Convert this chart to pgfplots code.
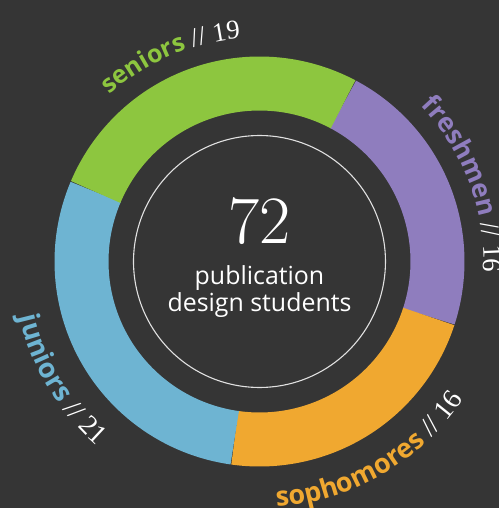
\documentclass[border=0pt]{standalone}
\usepackage{fontspec}
\usepackage{pgfplots}
\usepackage{pgfplotstable}
\pgfplotsset{compat=1.18}
\usetikzlibrary{decorations.text}
\newfontfamily\sansf{Open Sans}
\newfontfamily\numf{Liberation Serif}

\definecolor{bg}{HTML}{353535}
\definecolor{cF}{HTML}{8F7DBE}
\definecolor{cS}{HTML}{F0A830}
\definecolor{cJ}{HTML}{6EB4D2}
\definecolor{cR}{HTML}{8DC63F}

% students per class, clockwise from the top right
\pgfplotstableread{
label count
freshmen 16
sophomores 16
juniors 21
seniors 19
}\classes

\begin{document}
\begin{tikzpicture}
\pgfplotstablegetelem{0}{count}\of\classes \let\nF\pgfplotsretval
\pgfplotstablegetelem{1}{count}\of\classes \let\nS\pgfplotsretval
\pgfplotstablegetelem{2}{count}\of\classes \let\nJ\pgfplotsretval
\pgfplotstablegetelem{3}{count}\of\classes \let\nR\pgfplotsretval
\pgfmathsetmacro\total{\nF+\nS+\nJ+\nR}
\pgfmathsetmacro\aA{62}
\pgfmathsetmacro\aB{\aA-360*\nF/\total}
\pgfmathsetmacro\aC{\aB-360*\nS/\total}
\pgfmathsetmacro\aD{\aC-360*\nJ/\total}
\pgfmathsetmacro\aE{\aD-360*\nR/\total}

\fill[bg] (-259.5bp,-246.5bp) rectangle (239.5bp,261.5bp);

\begin{axis}[
  at={(0,0)}, anchor=origin,
  x=1bp, y=1bp,
  xmin=-250, xmax=230, ymin=-240, ymax=250,
  hide axis, clip=false,
  data cs=polar,
]
  \addplot[cF, line width=54bp, domain=\aA:\aB, samples=60] ({x},{178});
  \addplot[cS, line width=54bp, domain=\aB:\aC, samples=60] ({x},{178});
  \addplot[cJ, line width=54bp, domain=\aC:\aD, samples=60] ({x},{178});
  \addplot[cR, line width=54bp, domain=\aD:\aE, samples=60] ({x},{178});
  \addplot[white!85!bg, line width=1.1bp, domain=0:360, samples=150] ({x},{126});
\end{axis}

% center text
\node[white, anchor=base, inner sep=0] at (0,18.5bp) {\fontsize{68}{68}\selectfont 72};
\node[white, anchor=base, inner sep=0] at (0,-22.5bp) {\sansf\fontsize{25}{25}\selectfont publication};
\node[white, anchor=base, inner sep=0] at (0,-50bp) {\sansf\fontsize{25}{25}\selectfont design students};

% curved labels
\path[decorate, decoration={text along path, text align=left,
  text={|\sansf\bfseries\fontsize{25}{25}\selectfont\color{cR}|seniors|\numf\fontsize{27}{27}\selectfont\color{white}| // 19}}]
  (132:224bp) arc[start angle=132, end angle=20, radius=224bp];
\path[decorate, decoration={text along path, text align=left,
  text={|\sansf\bfseries\fontsize{26.5}{26.5}\selectfont\color{cF}|freshmen|\numf\fontsize{27}{27}\selectfont\color{white}| // 16}}]
  (44:224bp) arc[start angle=44, end angle=-70, radius=224bp];
\path[decorate, decoration={text along path, text align=left,
  text={|\sansf\bfseries\fontsize{27}{27}\selectfont\color{cS}|sophomores|\numf\fontsize{28}{28}\selectfont\color{white}| // 16}}]
  (-86:246bp) arc[start angle=-86, end angle=10, radius=246bp];
\path[decorate, decoration={text along path, text align=left,
  text={|\sansf\bfseries\fontsize{27.5}{27.5}\selectfont\color{cJ}|juniors|\numf\fontsize{28}{28}\selectfont\color{white}| // 21}}]
  (193:246bp) arc[start angle=193, end angle=280, radius=246bp];

\pgfresetboundingbox
\useasboundingbox (-259.5bp,-246.5bp) rectangle (239.5bp,261.5bp);
\end{tikzpicture}
\end{document}
